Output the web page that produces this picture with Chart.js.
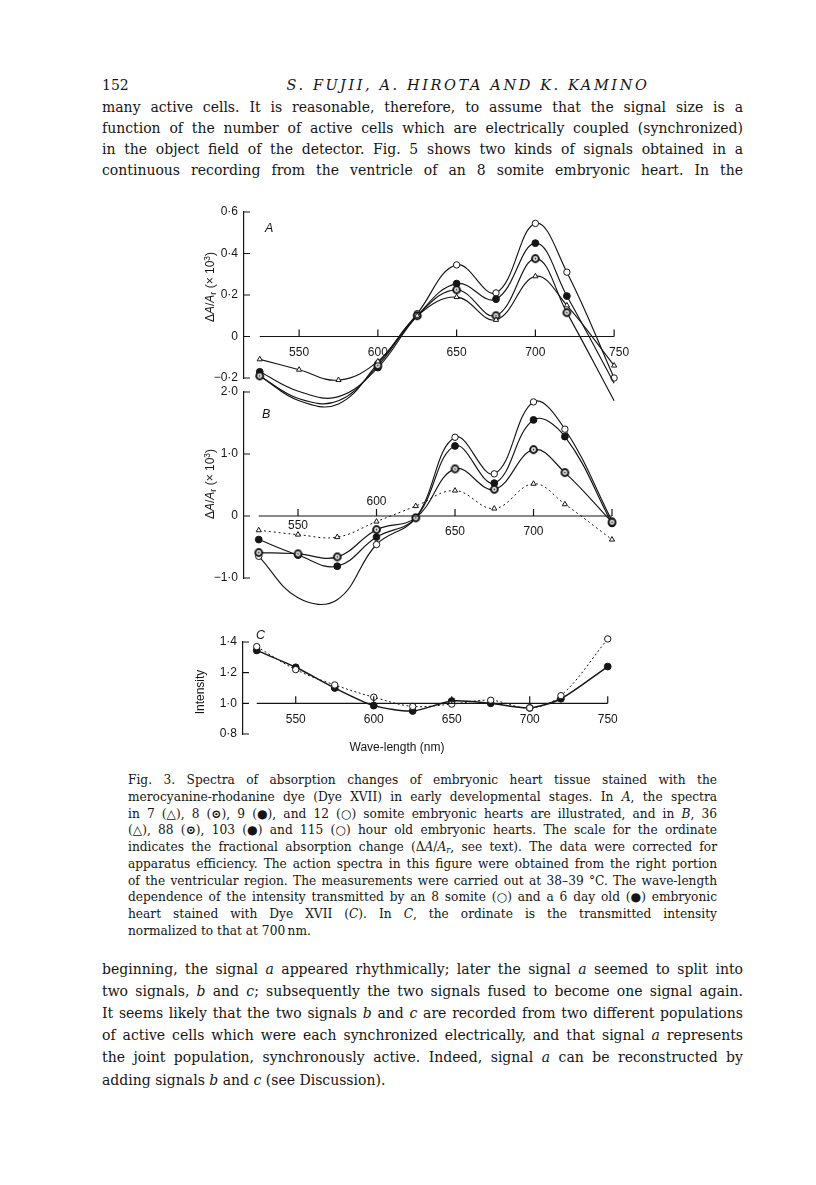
<!DOCTYPE html>
<html>
<head>
<meta charset="utf-8">
<script src="https://cdn.jsdelivr.net/npm/chart.js@4.4.0/dist/chart.umd.min.js"></script>
<style>
  body { margin: 0; background: #fff; }
  #page { position: relative; width: 816px; height: 1185px; overflow: hidden; color: #151515; }
  .ln { position: absolute; white-space: nowrap; font-family: 'DejaVu Serif', serif; }
  .body { font-size: 14px; line-height: 18px; }
  .cap { font-size: 12.2px; line-height: 15px; }
  .ln sub { font-size: 70%; vertical-align: -2px; line-height: 0; }
  .lab { position: absolute; white-space: nowrap; font-family: 'Liberation Sans', Arial, sans-serif; font-size: 12px; line-height: 14px; color: #151515; }
  .rot { transform: translate(-50%, -50%) rotate(-90deg); }
  .ctr { transform: translate(-50%, -50%); }
  .lab sub { font-size: 75%; vertical-align: -2px; line-height: 0; }
  .lab sup { font-size: 70%; vertical-align: 4px; line-height: 0; }
  canvas { position: absolute; }
</style>
</head>
<body>
<div id="page">
  <canvas id="panelA"></canvas>
  <canvas id="panelB"></canvas>
  <canvas id="panelC"></canvas>

  <div class="lab" style="left:265px;top:221px;font-style:italic;font-size:12.5px">A</div>
  <div class="lab" style="left:262px;top:407px;font-style:italic;font-size:12.5px">B</div>
  <div class="lab" style="left:256px;top:628px;font-style:italic;font-size:12.5px">C</div>
  <div class="lab rot" style="left:210px;top:287px">Δ<i>A</i>/<i>A</i><sub>r</sub> (× 10<sup>3</sup>)</div>
  <div class="lab rot" style="left:210px;top:484px">Δ<i>A</i>/<i>A</i><sub>r</sub> (× 10<sup>3</sup>)</div>
  <div class="lab rot" style="left:200px;top:692px">Intensity</div>
  <div class="lab ctr" style="left:397px;top:747px">Wave-length (nm)</div>
</div>

<script>
// Figure data

const wavelengths = [525, 550, 575, 600, 625, 650, 675, 700, 720, 750];
const waveTicks = [550, 600, 650, 700, 750];

// A: somite stages
const ticksA = [-0.2, 0, 0.2, 0.4, 0.6];
const somite7 = [-0.11, -0.16, -0.21, -0.12, 0.10, 0.19, 0.08, 0.29, 0.15, -0.14];
const somite8 = [-0.19, -0.30, -0.31, -0.14, 0.10, 0.225, 0.10, 0.375, 0.115, -0.31];
const somite9 = [-0.17, -0.265, -0.29, -0.15, 0.10, 0.255, 0.18, 0.45, 0.195, -0.225];
const somite12 = [-0.19, -0.31, -0.325, -0.13, 0.11, 0.345, 0.21, 0.545, 0.31, -0.20];

// B: hour old hearts
const ticksB = [-1, 0, 1, 2];
const hour36 = [-0.23, -0.30, -0.34, -0.09, 0.16, 0.41, 0.12, 0.52, 0.19, -0.38];
const hour88 = [-0.59, -0.61, -0.66, -0.22, -0.03, 0.76, 0.43, 1.07, 0.70, -0.10];
const hour103 = [-0.38, -0.63, -0.81, -0.34, -0.03, 1.13, 0.53, 1.55, 1.28, -0.12];
const hour115 = [-0.65, -1.32, -1.35, -0.46, -0.03, 1.27, 0.68, 1.84, 1.40, -0.08];

// C: transmitted intensity
const ticksC = [0.8, 1.0, 1.2, 1.4];
const intensity8somite = [1.37, 1.22, 1.12, 1.04, 0.98, 0.995, 1.02, 0.97, 1.05, 1.42];
const intensity6day = [1.345, 1.235, 1.10, 0.985, 0.95, 1.015, 1.0, 0.97, 1.03, 1.24];

const INK = '#151515';

// ring marker (bold circle with a dot)
function ringMarker() {
    const c = document.createElement('canvas');
    c.width = c.height = 11;
    const g = c.getContext('2d');
    g.beginPath();
    g.arc(5.5, 5.5, 3.4, 0, 2 * Math.PI);
    g.fillStyle = '#fff';
    g.fill();
    g.lineWidth = 2;
    g.strokeStyle = INK;
    g.stroke();
    g.beginPath();
    g.arc(5.5, 5.5, 0.9, 0, 2 * Math.PI);
    g.fillStyle = INK;
    g.fill();
    return c;
}
const ring = ringMarker();

const markers = {
    open: { pointStyle: 'circle', pointRadius: 3.2, pointBackgroundColor: '#fff' },
    filled: { pointStyle: 'circle', pointRadius: 3.4, pointBackgroundColor: INK },
    ring: { pointStyle: ring, pointRadius: 4 },
    triangle: { pointStyle: 'triangle', pointRadius: 3, pointBackgroundColor: '#fff' }
};

function series(values, marker, opts = {}) {
    return Object.assign({
        data: wavelengths.map((w, i) => ({ x: w, y: values[i] })),
        borderColor: INK,
        borderWidth: 1.15,
        pointBorderColor: INK,
        pointBorderWidth: 1,
        tension: 0.4,
        clip: false,
        fill: false
    }, markers[marker], opts);
}

function fmtTick(v) {
    if (Math.abs(v) < 1e-9) return '0';
    return (v < 0 ? '\u2212' : '') + Math.abs(v).toFixed(1).replace('.', '\u00b7');
}

// axes drawn the way the paper does: inward y ticks, baseline with upward ticks
const paperAxes = {
    id: 'paperAxes',
    afterDatasetsDraw(chart, args, opts) {
        const ctx = chart.ctx;
        const xs = chart.scales.x, ys = chart.scales.y;
        ctx.save();
        ctx.strokeStyle = INK;
        ctx.lineWidth = 1.2;
        ctx.beginPath();
        ys.ticks.forEach(t => {
            const py = ys.getPixelForValue(t.value);
            ctx.moveTo(chart.chartArea.left, py);
            ctx.lineTo(chart.chartArea.left + 6, py);
        });
        const by = ys.getPixelForValue(opts.base);
        ctx.moveTo(xs.getPixelForValue(wavelengths[0]), by);
        ctx.lineTo(xs.getPixelForValue(wavelengths[wavelengths.length - 1]), by);
        waveTicks.forEach(w => {
            const px = xs.getPixelForValue(w);
            ctx.moveTo(px, by);
            ctx.lineTo(px, by - 7);
        });
        ctx.stroke();

        ctx.fillStyle = INK;
        ctx.font = '12px "Liberation Sans", Arial, sans-serif';
        ctx.textAlign = 'center';
        ctx.textBaseline = 'middle';
        opts.labels.forEach(w => {
            const off = (opts.offsets || {})[w] || {};
            ctx.fillText(String(w), xs.getPixelForValue(w) + (off.dx || 0), by + (off.dy !== undefined ? off.dy : 16));
        });
        ctx.restore();
    }
};

function makePanel(id, cfg) {
    const axisW = 40, padT = 14, padB = 36, padR = 40;
    const xMax = 755;
    const areaW = (xMax - cfg.xMin) * cfg.pxPerNm;
    const areaH = cfg.bottom - cfg.top;
    const canvas = document.getElementById(id);
    canvas.width = Math.round(axisW + areaW + padR);
    canvas.height = Math.round(padT + areaH + padB);
    canvas.style.left = (cfg.left - axisW) + 'px';
    canvas.style.top = (cfg.top - padT) + 'px';

    return new Chart(canvas.getContext('2d'), {
        type: 'line',
        data: { datasets: cfg.datasets },
        options: {
            responsive: false,
            animation: false,
            devicePixelRatio: 1,
            layout: { padding: { top: padT, bottom: padB, right: canvas.width - axisW - areaW, left: 0 } },
            plugins: {
                legend: { display: false },
                tooltip: { enabled: false },
                paperAxes: { base: cfg.base, labels: cfg.labels, offsets: cfg.offsets }
            },
            scales: {
                x: { type: 'linear', min: cfg.xMin, max: xMax, display: false },
                y: {
                    type: 'linear',
                    min: cfg.yTicks[0],
                    max: cfg.yTicks[cfg.yTicks.length - 1],
                    afterBuildTicks: s => { s.ticks = cfg.yTicks.map(v => ({ value: v })); },
                    afterFit: s => { s.width = axisW; },
                    border: { display: true, color: INK, width: 1.2 },
                    grid: { display: false, drawTicks: false },
                    ticks: {
                        color: INK,
                        padding: 6,
                        font: { family: "'Liberation Sans', Arial, sans-serif", size: 12 },
                        callback: v => fmtTick(v)
                    }
                }
            }
        },
        plugins: [paperAxes]
    });
}

makePanel('panelA', {
    left: 244, top: 212, bottom: 378, xMin: 515, pxPerNm: 1.575,
    yTicks: ticksA, base: 0,
    labels: [550, 600, 650, 700, 750],
    offsets: { 750: { dx: 5 } },
    datasets: [
        series(somite7, 'triangle'),
        series(somite8, 'ring'),
        series(somite9, 'filled'),
        series(somite12, 'open')
    ]
});

makePanel('panelB', {
    left: 244, top: 392, bottom: 578, xMin: 515.6, pxPerNm: 1.57,
    yTicks: ticksB, base: 0,
    labels: [550, 600, 650, 700],
    offsets: { 550: { dy: 10 }, 600: { dy: -14 } },
    datasets: [
        series(hour36, 'triangle', { borderDash: [2, 3], borderWidth: 1 }),
        series(hour88, 'ring'),
        series(hour103, 'filled'),
        series(hour115, 'open')
    ]
});

makePanel('panelC', {
    left: 243, top: 642, bottom: 734, xMin: 516.2, pxPerNm: 1.56,
    yTicks: ticksC, base: 1.0,
    labels: [550, 600, 650, 700, 750],
    offsets: {},
    datasets: [
        series(intensity8somite, 'open', { borderDash: [2, 2.5], borderWidth: 1, tension: 0.35 }),
        series(intensity6day, 'filled', { borderWidth: 1.5, tension: 0.25 })
    ]
});

// Page text
const page = document.getElementById('page');

function addLine(html, cls, x, cy, width, justify) {
    const d = document.createElement('div');
    d.className = 'ln ' + cls;
    d.innerHTML = html;
    page.appendChild(d);
    const h = d.getBoundingClientRect().height;
    d.style.left = x + 'px';
    d.style.top = (cy - h / 2) + 'px';
    if (justify) {
        const spaces = (d.textContent.match(/ /g) || []).length;
        const nat = d.getBoundingClientRect().width;
        if (spaces) d.style.wordSpacing = ((width - nat) / spaces) + 'px';
    }
    return d;
}

const BODY_L = 102, BODY_W = 641;
const CAP_L = 128, CAP_W = 589;

// running head
addLine('152', 'body', BODY_L, 85, 0, false);
const head = addLine('<i>S. FUJII, A. HIROTA AND K. KAMINO</i>', 'body', 0, 85, 0, false);
head.style.fontSize = '14.5px';
head.style.letterSpacing = '2.6px';
head.style.left = (468 - head.getBoundingClientRect().width / 2) + 'px';

const topLines = [
    'many active cells. It is reasonable, therefore, to assume that the signal size is a',
    'function of the number of active cells which are electrically coupled (synchronized)',
    'in the object field of the detector. Fig. 5 shows two kinds of signals obtained in a',
    'continuous recording from the ventricle of an 8 somite embryonic heart. In the'
];
topLines.forEach((t, i) => addLine(t, 'body', BODY_L, 107 + i * 21, BODY_W, true));

const capLines = [
    'Fig. 3. Spectra of absorption changes of embryonic heart tissue stained with the',
    'merocyanine-rhodanine dye (Dye XVII) in early developmental stages. In <i>A</i>, the spectra',
    'in 7 (\u25b3), 8 (<b>\u2299</b>), 9 (\u25cf), and 12 (\u25cb) somite embryonic hearts are illustrated, and in <i>B</i>, 36',
    '(\u25b3), 88 (<b>\u2299</b>), 103 (\u25cf) and 115 (\u25cb) hour old embryonic hearts. The scale for the ordinate',
    'indicates the fractional absorption change (\u0394<i>A</i>/<i>A<sub>r</sub></i>, see text). The data were corrected for',
    'apparatus efficiency. The action spectra in this figure were obtained from the right portion',
    'of the ventricular region. The measurements were carried out at 38\u201339 \u00b0C. The wave-length',
    'dependence of the intensity transmitted by an 8 somite (\u25cb) and a 6 day old (\u25cf) embryonic',
    'heart stained with Dye XVII (<i>C</i>). In <i>C</i>, the ordinate is the transmitted intensity',
    'normalized to that at 700\u2009nm.'
];
capLines.forEach((t, i) => addLine(t, 'cap', CAP_L, 780.7 + i * 16.75, CAP_W, i < capLines.length - 1));

const bottomLines = [
    'beginning, the signal <i>a</i> appeared rhythmically; later the signal <i>a</i> seemed to split into',
    'two signals, <i>b</i> and <i>c</i>; subsequently the two signals fused to become one signal again.',
    'It seems likely that the two signals <i>b</i> and <i>c</i> are recorded from two different populations',
    'of active cells which were each synchronized electrically, and that signal <i>a</i> represents',
    'the joint population, synchronously active. Indeed, signal <i>a</i> can be reconstructed by',
    'adding signals <i>b</i> and <i>c</i> (see Discussion).'
];
bottomLines.forEach((t, i) => addLine(t, 'body', BODY_L, 969 + i * 22.1, BODY_W, i < bottomLines.length - 1));
</script>
</body>
</html>
